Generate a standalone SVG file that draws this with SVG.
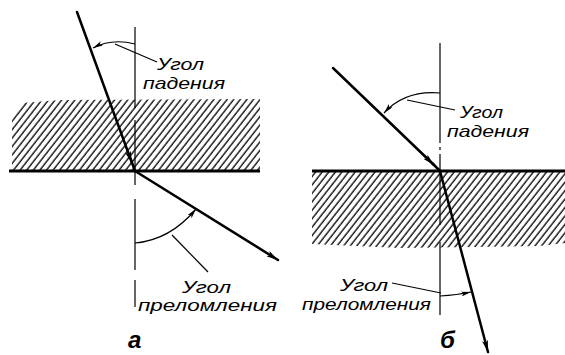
<svg xmlns="http://www.w3.org/2000/svg" width="565" height="355" viewBox="0 0 565 355">
<style>
.ray{stroke:#000;stroke-width:2.5;fill:none;stroke-linecap:round}
.surf{stroke:#000;stroke-width:3;fill:none}
.thin{stroke:#000;stroke-width:1.2;fill:none}
.lbl{font-family:"Liberation Sans","DejaVu Sans",sans-serif;font-style:italic;font-size:17px;fill:#000}
.big{font-family:"Liberation Sans","DejaVu Sans",sans-serif;font-style:italic;font-weight:bold;font-size:24px;fill:#000}
</style>
<defs>
<marker id="ah" viewBox="0 0 12 6" refX="12" refY="3" markerWidth="12" markerHeight="6" markerUnits="userSpaceOnUse" orient="auto">
<path d="M0,0 L12,3 L0,6 L3,3 Z" fill="#000"/>
</marker>
<marker id="ahs" viewBox="0 0 10 5" refX="10" refY="2.5" markerWidth="10" markerHeight="5" markerUnits="userSpaceOnUse" orient="auto">
<path d="M0,0 L10,2.5 L0,5 L2.5,2.5 Z" fill="#000"/>
</marker>
<pattern id="hatch" width="5.2" height="10" patternUnits="userSpaceOnUse" patternTransform="rotate(38)">
<line x1="1" y1="0" x2="1" y2="10" stroke="#000" stroke-width="1.3"/>
</pattern>
<clipPath id="clipA"><polygon points="12,120 22,103 60,100 260,99 260,171 12,171"/></clipPath>
<clipPath id="clipB"><polygon points="312,171 565,171 565,243 540,246 400,248 312,244"/></clipPath>
</defs>

<g id="panel-a">
<g id="hatch-a"><rect x="10" y="95" width="252" height="77" fill="url(#hatch)" clip-path="url(#clipA)"/></g>
<g id="surface-a"><line class="surf" x1="9" y1="171" x2="260" y2="171"/></g>
<g id="normal-a">
<line class="thin" x1="135" y1="27" x2="135" y2="108"/>
<line class="thin" x1="135" y1="120" x2="135" y2="185"/>
<line class="thin" x1="135" y1="199" x2="135" y2="270"/>
<line class="thin" x1="135" y1="280" x2="135" y2="307"/>
</g>
<g id="labels-a">
<text class="lbl" x="157" y="70" textLength="47" lengthAdjust="spacingAndGlyphs">Угол</text>
<text class="lbl" x="143" y="89" textLength="82" lengthAdjust="spacingAndGlyphs">падения</text>
<text class="lbl" x="182" y="293" textLength="49" lengthAdjust="spacingAndGlyphs">Угол</text>
<text class="lbl" x="138" y="311" textLength="139" lengthAdjust="spacingAndGlyphs">преломления</text>
<text class="big" x="128" y="348">а</text>
</g>
</g>

<g id="panel-b">
<g id="hatch-b"><rect x="312" y="171" width="253" height="80" fill="url(#hatch)" clip-path="url(#clipB)"/></g>
<g id="surface-b"><line class="surf" x1="312" y1="171" x2="565" y2="171"/></g>
<g id="normal-b">
<line class="thin" x1="440" y1="43" x2="440" y2="143"/>
<line class="thin" x1="440" y1="147" x2="440" y2="150"/>
<line class="thin" x1="440" y1="154" x2="440" y2="225"/>
<line class="thin" x1="440" y1="242" x2="440" y2="315"/>
</g>
<g id="labels-b">
<text class="lbl" x="460" y="118" textLength="43" lengthAdjust="spacingAndGlyphs">Угол</text>
<text class="lbl" x="447" y="137" textLength="82" lengthAdjust="spacingAndGlyphs">падения</text>
<text class="lbl" x="340" y="291" textLength="48" lengthAdjust="spacingAndGlyphs">Угол</text>
<text class="lbl" x="302" y="310" textLength="129" lengthAdjust="spacingAndGlyphs">преломления</text>
<text class="big" x="440" y="348">б</text>
</g>
</g>

<g id="connectors">
<line class="ray" x1="77" y1="12" x2="132" y2="163" marker-end="url(#ah)"/>
<line class="ray" x1="131" y1="160" x2="135" y2="171"/>
<line class="ray" x1="135" y1="171" x2="278" y2="260" marker-end="url(#ah)"/>
<path class="thin" d="M135,44 Q112,38 93,48" marker-end="url(#ahs)"/>
<line class="thin" x1="115" y1="44" x2="157" y2="62"/>
<path class="thin" d="M135,243 Q170,240 196,209" marker-end="url(#ahs)"/>
<line class="thin" x1="172" y1="235" x2="208" y2="272"/>
<line class="ray" x1="333" y1="68" x2="434" y2="165" marker-end="url(#ah)"/>
<line class="ray" x1="432" y1="163" x2="440" y2="171"/>
<line class="ray" x1="440" y1="171" x2="488" y2="352" marker-end="url(#ah)"/>
<path class="thin" d="M440,93 Q405,90 384,113" marker-end="url(#ahs)"/>
<line class="thin" x1="407" y1="100" x2="455" y2="110"/>
<path class="thin" d="M440,296 Q457,295 471,292" marker-end="url(#ahs)"/>
<line class="thin" x1="392" y1="283" x2="441" y2="293"/>
</g>
</svg>
